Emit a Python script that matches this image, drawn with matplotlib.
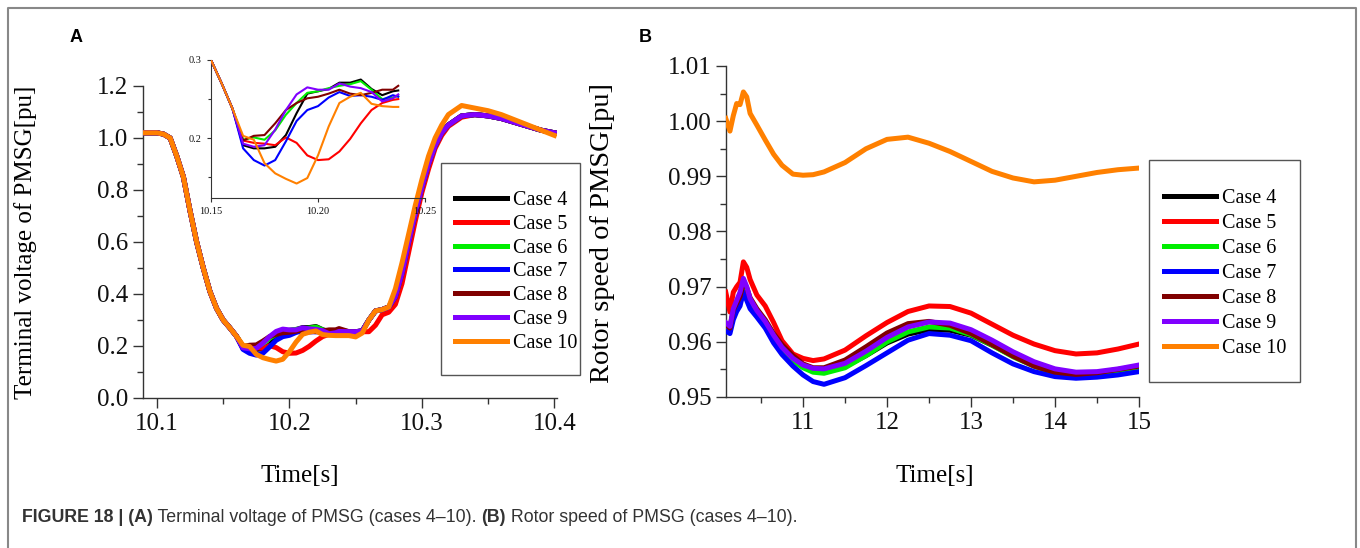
import matplotlib
matplotlib.use("Agg")
import matplotlib.pyplot as plt
from matplotlib.lines import Line2D
from matplotlib.patches import Rectangle
from matplotlib.ticker import MultipleLocator, FormatStrFormatter

# ---------------- data ----------------
cases = ["Case 4", "Case 5", "Case 6", "Case 7", "Case 8", "Case 9", "Case 10"]
colors = ["#000000", "#ff0000", "#00ee00", "#0000ff", "#800000", "#8000ff", "#ff8000"]

# Panel A: terminal voltage
tA_pre = [10.0895, 10.095, 10.100, 10.105, 10.110, 10.115, 10.120, 10.125, 10.130, 10.135, 10.140, 10.145]
vA_pre = [1.02, 1.02, 1.02, 1.015, 1.00, 0.93, 0.85, 0.72, 0.60, 0.50, 0.41, 0.345]

tA_mid = [10.150, 10.155, 10.160, 10.165, 10.170, 10.175, 10.180, 10.185, 10.190, 10.195,
          10.200, 10.205, 10.210, 10.215, 10.220, 10.225, 10.230, 10.235, 10.2375]
vA_mid_c4 = [0.300, 0.270, 0.238, 0.191, 0.187, 0.187, 0.189, 0.204, 0.232, 0.257, 0.260, 0.263, 0.271, 0.271, 0.275, 0.263, 0.255, 0.260, 0.261]
vA_mid_c5 = [0.300, 0.270, 0.238, 0.197, 0.194, 0.193, 0.191, 0.201, 0.194, 0.178, 0.172, 0.173, 0.183, 0.199, 0.219, 0.236, 0.245, 0.249, 0.250]
vA_mid_c6 = [0.300, 0.270, 0.238, 0.198, 0.201, 0.198, 0.210, 0.230, 0.245, 0.258, 0.260, 0.264, 0.267, 0.269, 0.273, 0.262, 0.250, 0.252, 0.254]
vA_mid_c7 = [0.300, 0.270, 0.238, 0.187, 0.172, 0.165, 0.172, 0.196, 0.222, 0.236, 0.241, 0.252, 0.259, 0.254, 0.255, 0.253, 0.249, 0.255, 0.253]
vA_mid_c8 = [0.300, 0.270, 0.238, 0.197, 0.203, 0.204, 0.219, 0.236, 0.245, 0.251, 0.253, 0.257, 0.262, 0.257, 0.255, 0.258, 0.262, 0.262, 0.267]
vA_mid_c9 = [0.300, 0.270, 0.238, 0.193, 0.189, 0.191, 0.211, 0.236, 0.256, 0.265, 0.262, 0.262, 0.270, 0.266, 0.264, 0.259, 0.247, 0.251, 0.256]
vA_mid_c10 = [0.300, 0.270, 0.238, 0.203, 0.198, 0.168, 0.155, 0.148, 0.142, 0.149, 0.178, 0.215, 0.245, 0.253, 0.258, 0.244, 0.241, 0.240, 0.240]

tA_post = [10.245, 10.25, 10.255, 10.26, 10.265, 10.27, 10.275, 10.28, 10.285, 10.29, 10.295, 10.30,
           10.305, 10.31, 10.315, 10.32, 10.33, 10.34, 10.35, 10.36, 10.37, 10.38, 10.39, 10.40]
vA_post_main = [0.255, 0.255, 0.258, 0.30, 0.335, 0.34, 0.35, 0.39, 0.48, 0.60, 0.71, 0.81,
                0.90, 0.97, 1.02, 1.05, 1.085, 1.09, 1.085, 1.075, 1.06, 1.045, 1.03, 1.02]
vA_post_c5 = [0.250, 0.252, 0.255, 0.255, 0.28, 0.32, 0.33, 0.36, 0.44, 0.56, 0.68, 0.79,
              0.88, 0.96, 1.01, 1.045, 1.08, 1.09, 1.085, 1.075, 1.06, 1.045, 1.03, 1.02]
vA_post_c10 = [0.240, 0.235, 0.250, 0.30, 0.335, 0.34, 0.35, 0.42, 0.52, 0.63, 0.74, 0.84,
               0.93, 1.00, 1.05, 1.09, 1.125, 1.115, 1.105, 1.09, 1.07, 1.05, 1.03, 1.01]

vA_mid = [vA_mid_c4, vA_mid_c5, vA_mid_c6, vA_mid_c7, vA_mid_c8, vA_mid_c9, vA_mid_c10]
vA_post = [vA_post_main, vA_post_c5, vA_post_main, vA_post_main, vA_post_main, vA_post_main, vA_post_c10]

# Panel B: rotor speed
tB = [10.08, 10.13, 10.17, 10.21, 10.25, 10.29, 10.33, 10.37, 10.45, 10.55, 10.65, 10.75, 10.88,
      11.0, 11.12, 11.25, 11.5, 11.75, 12.0, 12.25, 12.5, 12.75, 13.0, 13.25, 13.5, 13.75,
      14.0, 14.25, 14.5, 14.75, 15.0]
wB_c4 = [0.9630, 0.9622, 0.9655, 0.9668, 0.9680, 0.9705, 0.9695, 0.9675, 0.9655, 0.9635, 0.9610, 0.9590, 0.9570,
         0.9557, 0.9549, 0.9546, 0.9555, 0.9575, 0.9598, 0.9614, 0.9622, 0.9621, 0.9612, 0.9594, 0.9575, 0.9558,
         0.9545, 0.9540, 0.9541, 0.9546, 0.9552]
wB_c5 = [0.9690, 0.9654, 0.9690, 0.9700, 0.9708, 0.9745, 0.9735, 0.9713, 0.9685, 0.9665, 0.9635, 0.9602, 0.9578,
         0.9570, 0.9566, 0.9569, 0.9585, 0.9611, 0.9635, 0.9655, 0.9665, 0.9664, 0.9652, 0.9632, 0.9612, 0.9596,
         0.9584, 0.9578, 0.9580, 0.9587, 0.9596]
wB_c6 = [0.9628, 0.9620, 0.9652, 0.9665, 0.9678, 0.9702, 0.9692, 0.9672, 0.9652, 0.9632, 0.9607, 0.9586, 0.9566,
         0.9553, 0.9545, 0.9543, 0.9553, 0.9575, 0.9600, 0.9618, 0.9627, 0.9625, 0.9613, 0.9594, 0.9573, 0.9556,
         0.9543, 0.9538, 0.9540, 0.9545, 0.9552]
wB_c7 = [0.9620, 0.9615, 0.9640, 0.9655, 0.9665, 0.9690, 0.9675, 0.9660, 0.9645, 0.9625, 0.9598, 0.9577, 0.9556,
         0.9540, 0.9528, 0.9523, 0.9535, 0.9557, 0.9580, 0.9603, 0.9615, 0.9612, 0.9602, 0.9580, 0.9560, 0.9546,
         0.9537, 0.9534, 0.9536, 0.9540, 0.9546]
wB_c8 = [0.9632, 0.9625, 0.9658, 0.9670, 0.9682, 0.9708, 0.9698, 0.9680, 0.9660, 0.9640, 0.9615, 0.9595, 0.9575,
         0.9560, 0.9553, 0.9553, 0.9567, 0.9591, 0.9616, 0.9633, 0.9637, 0.9630, 0.9615, 0.9595, 0.9574, 0.9556,
         0.9545, 0.9541, 0.9544, 0.9550, 0.9556]
wB_c9 = [0.9635, 0.9628, 0.9660, 0.9675, 0.9690, 0.9715, 0.9700, 0.9678, 0.9657, 0.9637, 0.9612, 0.9590, 0.9570,
         0.9558, 0.9552, 0.9551, 0.9561, 0.9583, 0.9608, 0.9627, 0.9636, 0.9634, 0.9622, 0.9603, 0.9582, 0.9564,
         0.9551, 0.9545, 0.9546, 0.9551, 0.9558]
wB_c10 = [1.0005, 0.9982, 1.0010, 1.0032, 1.0030, 1.0053, 1.0044, 1.0014, 0.9993, 0.9966, 0.9940, 0.9920, 0.9904,
          0.9902, 0.9903, 0.9908, 0.9925, 0.9950, 0.9967, 0.9971, 0.9960, 0.9945, 0.9927, 0.9909, 0.9897, 0.9890,
          0.9893, 0.9900, 0.9907, 0.9912, 0.9915]
wB = [wB_c4, wB_c5, wB_c6, wB_c7, wB_c8, wB_c9, wB_c10]

caption_bold1 = "FIGURE 18 | (A)"
caption_txt1 = " Terminal voltage of PMSG (cases 4\u201310). "
caption_bold2 = "(B)"
caption_txt2 = " Rotor speed of PMSG (cases 4\u201310)."

# ---------------- figure ----------------
W, H = 1360, 548
fig = plt.figure(figsize=(W / 100, H / 100), dpi=100)
SERIF = "Liberation Serif"
SANS = "Liberation Sans"
TICK_FS = 18
LEG_FS = 14.5


def px_rect(l, t, r, b):
    return [l / W, 1 - b / H, (r - l) / W, (b - t) / H]


def style_axes(ax, fs=TICK_FS, major_len=7, minor_len=4, lw=1.0):
    for s in ["top", "right"]:
        ax.spines[s].set_visible(False)
    for s in ["left", "bottom"]:
        ax.spines[s].set_color("#333333")
        ax.spines[s].set_linewidth(lw)
    ax.tick_params(which="major", direction="out", length=major_len, width=lw, colors="#333333",
                   labelsize=fs, labelcolor="#111111")
    ax.tick_params(which="minor", direction="out", length=minor_len, width=lw, colors="#333333")
    for lab in ax.get_xticklabels() + ax.get_yticklabels():
        lab.set_fontfamily(SERIF)


# Panel A
axA = fig.add_axes(px_rect(143, 86, 557, 398))
for i in range(7):
    t = tA_pre + tA_mid + tA_post
    v = vA_pre + vA_mid[i] + vA_post[i]
    axA.plot(t, v, color=colors[i], lw=3.6, solid_joinstyle="round", zorder=2 + i)
axA.set_xlim(10.0895, 10.402)
axA.set_ylim(0, 1.2)
axA.xaxis.set_major_locator(MultipleLocator(0.1))
axA.xaxis.set_minor_locator(MultipleLocator(0.05))
axA.yaxis.set_major_locator(MultipleLocator(0.2))
axA.yaxis.set_minor_locator(MultipleLocator(0.1))
axA.xaxis.set_major_formatter(FormatStrFormatter("%.1f"))
axA.yaxis.set_major_formatter(FormatStrFormatter("%.1f"))
style_axes(axA)
axA.set_ylabel("Terminal voltage of PMSG[pu]", fontfamily=SERIF, fontsize=18)
axA.yaxis.set_label_coords(-0.255, 0.5)
axA.set_xlabel("Time[s]", fontfamily=SERIF, fontsize=18)
axA.xaxis.set_label_coords((300 - 143) / 414, (398 - 465) / 312)

# Inset
axI = fig.add_axes(px_rect(211, 60, 425, 198))
for i in range(7):
    axI.plot(tA_pre + tA_mid, vA_pre + vA_mid[i], color=colors[i], lw=1.5, zorder=2 + i)
axI.set_xlim(10.15, 10.25)
axI.set_ylim(0.1235, 0.3)
axI.xaxis.set_major_locator(MultipleLocator(0.05))
axI.yaxis.set_major_locator(MultipleLocator(0.1))
axI.yaxis.set_minor_locator(MultipleLocator(0.05))
axI.xaxis.set_major_formatter(FormatStrFormatter("%.2f"))
axI.yaxis.set_major_formatter(FormatStrFormatter("%.1f"))
style_axes(axI, fs=7.5, major_len=3, minor_len=2, lw=0.8)
axI.patch.set_alpha(0)

# Panel B
axB = fig.add_axes(px_rect(726, 66, 1139, 397))
for i in range(7):
    axB.plot(tB, wB[i], color=colors[i], lw=3.6, zorder=2 + i)
axB.set_xlim(10.083, 15.0)
axB.set_ylim(0.95, 1.01)
axB.xaxis.set_major_locator(MultipleLocator(1))
axB.xaxis.set_minor_locator(MultipleLocator(0.5))
axB.yaxis.set_major_locator(MultipleLocator(0.01))
axB.yaxis.set_minor_locator(MultipleLocator(0.005))
axB.xaxis.set_major_formatter(FormatStrFormatter("%d"))
axB.yaxis.set_major_formatter(FormatStrFormatter("%.2f"))
style_axes(axB)
axB.set_ylabel("Rotor speed of PMSG[pu]", fontfamily=SERIF, fontsize=20.5)
axB.yaxis.set_label_coords((615 - 726) / 413, 0.495)
axB.set_xlabel("Time[s]", fontfamily=SERIF, fontsize=18)
axB.xaxis.set_label_coords((935 - 726) / 413, (397 - 465) / 331)

# Legends (frame drawn as a rectangle to match proportions)
handles = [Line2D([0], [0], color=c, lw=3.6) for c in colors]


def add_legend(l, t, r, b, first_y, last_y, handle_x0, spacing):
    fig.add_artist(Rectangle((l / W, 1 - b / H), (r - l) / W, (b - t) / H, transform=fig.transFigure,
                             fill=False, edgecolor="#555555", lw=1.0, zorder=20))
    step = (last_y - first_y) / 6
    leg = fig.legend(handles, cases, loc="upper left",
                     bbox_to_anchor=(handle_x0 / W, 1 - (first_y - step / 2 + 5) / H),
                     frameon=False, prop={"family": SERIF, "size": LEG_FS},
                     handlelength=2.6, handletextpad=0.3, labelspacing=spacing,
                     borderpad=0.0, borderaxespad=0.0)
    return leg


add_legend(441, 163, 580, 375, 198, 341, 455, 0.23)
add_legend(1149, 160, 1300, 382, 196, 346, 1164, 0.30)

# Panel letters
fig.text(76 / W, 1 - 37 / H, "A", fontfamily=SANS, fontweight="bold", fontsize=13, ha="center", va="center")
fig.text(645 / W, 1 - 37 / H, "B", fontfamily=SANS, fontweight="bold", fontsize=13, ha="center", va="center")

# Caption
cap_y = 1 - 518 / H
cap_fs = 12.8
t1 = fig.text(22 / W, cap_y, caption_bold1, fontfamily=SANS, fontweight="bold", fontsize=cap_fs,
              color="#333333", va="center")
fig.canvas.draw()
r = fig.canvas.get_renderer()
x = t1.get_window_extent(r).x1
t2 = fig.text(x / W, cap_y, caption_txt1, fontfamily=SANS, fontsize=cap_fs, color="#333333", va="center")
x = t2.get_window_extent(r).x1
t3 = fig.text(x / W, cap_y, caption_bold2, fontfamily=SANS, fontweight="bold", fontsize=cap_fs,
              color="#333333", va="center")
x = t3.get_window_extent(r).x1
fig.text(x / W, cap_y, caption_txt2, fontfamily=SANS, fontsize=cap_fs, color="#333333", va="center")

# Outer border (left, top, right)
bx0, bx1, by0 = 7.5 / W, 1355.5 / W, 1 - 7.5 / H
fig.add_artist(Line2D([bx0, bx0, bx1, bx1], [0, by0, by0, 0], transform=fig.transFigure,
                      color="#888888", lw=1.5))

fig.savefig("out.png", dpi=100)
